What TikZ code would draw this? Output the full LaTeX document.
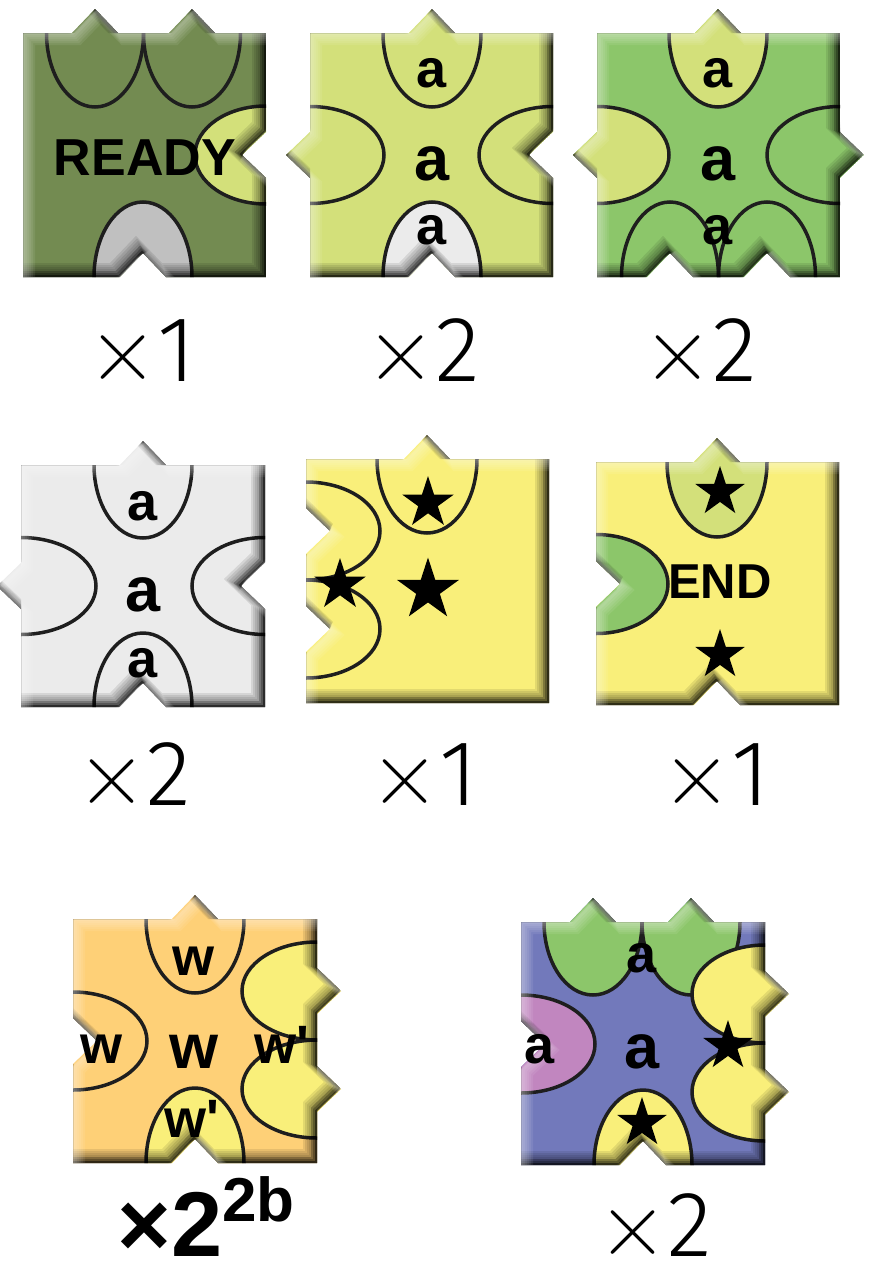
\documentclass[tikz,border=0pt]{standalone}
\usepackage{fontspec}
\newfontfamily\arial{Liberation Sans}
\newfontfamily\capfont{Fira Sans Light}
\usetikzlibrary{shapes.geometric}
\definecolor{cOlive}{HTML}{738B51}
\definecolor{cLime}{HTML}{D3E07A}
\definecolor{cGrey}{HTML}{C0C0C0}
\definecolor{cGreen}{HTML}{8CC66A}
\definecolor{cPale}{HTML}{EBEBEB}
\definecolor{cYel}{HTML}{F9EF7A}
\definecolor{cOra}{HTML}{FED077}
\definecolor{cBlue}{HTML}{7279BB}
\definecolor{cPink}{HTML}{C186BF}
\definecolor{cLine}{HTML}{1E1E1E}
% edge features: tab (out) / notch (in)
\newcommand\TabT[2]{-- ({#1-23},#2) -- (#1,{#2-24}) -- ({#1+23},#2)}
\newcommand\NchT[2]{-- ({#1-23},#2) -- (#1,{#2+24}) -- ({#1+23},#2)}
\newcommand\TabR[2]{-- (#1,{#2-23}) -- ({#1+24},#2) -- (#1,{#2+23})}
\newcommand\NchR[2]{-- (#1,{#2-23}) -- ({#1-24},#2) -- (#1,{#2+23})}
\newcommand\TabB[2]{-- ({#1+23},#2) -- (#1,{#2+24}) -- ({#1-23},#2)}
\newcommand\NchB[2]{-- ({#1+23},#2) -- (#1,{#2-24}) -- ({#1-23},#2)}
\newcommand\TabL[2]{-- (#1,{#2+23}) -- ({#1-24},#2) -- (#1,{#2-23})}
\newcommand\NchL[2]{-- (#1,{#2+23}) -- ({#1+24},#2) -- (#1,{#2-23})}
\newcommand\bevel[1]{%
  \foreach \w in {1,...,7}{\draw[black,opacity=0.09,line width={2*\w},shift={(-\w,-\w)}] #1;}%
  \foreach \w in {1,2,3}{\draw[black,opacity=0.18,line width={2*\w},shift={(-\w,-\w)}] #1;}%
  \draw[black,opacity=0.3,line width=2,shift={(-1,-1)}] #1;%
  \foreach \w in {1,...,6}{\draw[white,opacity=0.08,line width={2*\w},shift={(\w,\w)}] #1;}%
}
\newcommand\mul{{\rmfamily\fontsize{96}{96}\selectfont ×}}
\def\PathA{(23,33) \TabT{95}{33} \TabT{192}{33} -- (266,33) \NchR{266}{155} -- (266,277) \NchB{143}{277} -- (23,277) -- cycle}
\def\PathB{(310,33) \TabT{432}{33} -- (553,33) \NchR{553}{155} -- (553,277) \NchB{432}{277} -- (310,277) \TabL{310}{155} -- cycle}
\def\PathC{(597,33) \TabT{718}{33} -- (840,33) \TabR{840}{155} -- (840,277) \NchB{767}{277} \NchB{670}{277} -- (597,277) \TabL{597}{155} -- cycle}
\def\PathD{(21,465) \TabT{143}{465} -- (265,465) \NchR{265}{586} -- (265,707) \NchB{143}{707} -- (21,707) \TabL{21}{586} -- cycle}
\def\PathE{(306,459) \TabT{427}{459} -- (549,459) -- (549,703) -- (306,703) \NchL{306}{629} \NchL{306}{531} -- cycle}
\def\PathF{(596,462) \TabT{717}{462} -- (839,462) -- (839,705) \NchB{717}{705} -- (596,705) \NchL{596}{584} -- cycle}
\def\PathG{(73,919) \TabT{195}{919} -- (317,919) \TabR{317}{991} \TabR{317}{1089} -- (317,1163) \NchB{195}{1163} -- (73,1163) \NchL{73}{1041} -- cycle}
\def\PathH{(521,922) \TabT{593}{922} \TabT{691}{922} -- (765,922) \TabR{765}{994} \TabR{765}{1092} -- (765,1165) \NchB{643}{1165} -- (521,1165) \NchL{521}{1044} -- cycle}
\tikzset{
  ell/.style={draw=cLine,line width=3.5pt},
  lbl/.style={anchor=base,inner sep=0pt,font=\arial\bfseries\fontsize{54}{56}\selectfont},
  big/.style={anchor=base,inner sep=0pt,font=\arial\bfseries\fontsize{63}{65}\selectfont},
  word/.style={anchor=base,inner sep=0pt,font=\arial\bfseries\fontsize{#1}{#1}\selectfont},
  starS/.style={star,star points=5,star point ratio=2.618,fill=black,inner sep=0pt,minimum size=#1},
  capt/.style={anchor=base,inner sep=0pt,font=\capfont\fontsize{93}{95}\selectfont},
}
\begin{document}
\begin{tikzpicture}[x=1pt,y=-1pt]
\useasboundingbox[fill=white] (0,0) rectangle (883,1266);
% ---- tile A (READY)
\begin{scope}
\clip \PathA;
\fill[cOlive] \PathA;
\draw[ell] (95,33) ellipse [x radius=48.5,y radius=74];
\draw[ell] (192,33) ellipse [x radius=48.5,y radius=74];
\draw[ell,fill=cLime] (266,155) ellipse [x radius=71,y radius=49];
\draw[ell,fill=cGrey] (143,277) ellipse [x radius=49,y radius=75];
\bevel{\PathA}
\end{scope}
\node[word=52] (ready) at (145,175) {READY};
% ---- tile B
\begin{scope}
\clip \PathB;
\fill[cLime] \PathB;
\draw[ell] (432,33) ellipse [x radius=49,y radius=74];
\draw[ell] (310,155) ellipse [x radius=74,y radius=48.5];
\draw[ell] (553,155) ellipse [x radius=74,y radius=48.5];
\draw[ell,fill=cPale] (432,277) ellipse [x radius=49,y radius=75];
\bevel{\PathB}
\end{scope}
\node[lbl] (b1) at (432,87) {a};
\node[big] (b2) at (432,180) {a};
\node[lbl] (b3) at (432,244) {a};
% ---- tile C
\begin{scope}
\clip \PathC;
\fill[cGreen] \PathC;
\draw[ell,fill=cLime] (718,33) ellipse [x radius=49,y radius=74];
\draw[ell,fill=cLime] (597,155) ellipse [x radius=72,y radius=48.5];
\draw[ell] (840,155) ellipse [x radius=73,y radius=48.5];
\draw[ell] (670,277) ellipse [x radius=48.5,y radius=75];
\draw[ell] (767,277) ellipse [x radius=48.5,y radius=75];
\bevel{\PathC}
\end{scope}
\node[lbl] (c1) at (718,87) {a};
\node[big] (c2) at (718,180) {a};
\node[lbl] (c3) at (718,244) {a};
% ---- tile D
\begin{scope}
\clip \PathD;
\fill[cPale] \PathD;
\draw[ell] (143,465) ellipse [x radius=49,y radius=73];
\draw[ell] (21,586) ellipse [x radius=75,y radius=48.5];
\draw[ell] (265,586) ellipse [x radius=73,y radius=48.5];
\draw[ell] (143,707) ellipse [x radius=49,y radius=74];
\bevel{\PathD}
\end{scope}
\node[lbl] (d1) at (143,520) {a};
\node[big] (d2) at (143,611) {a};
\node[lbl] (d3) at (143,677) {a};
% ---- tile E
\begin{scope}
\clip \PathE;
\fill[cYel] \PathE;
\draw[ell] (427,459) ellipse [x radius=50,y radius=74];
\draw[ell] (306,531) ellipse [x radius=74,y radius=49];
\draw[ell] (306,629) ellipse [x radius=74,y radius=49];
\bevel{\PathE}
\end{scope}
\node[starS=54pt] (e1) at (428,503) {};
\node[starS=65pt] (e2) at (428,590) {};
\node[starS=54pt] (e3) at (340,585) {};
% ---- tile F
\begin{scope}
\clip \PathF;
\fill[cYel] \PathF;
\draw[ell,fill=cLime] (717,462) ellipse [x radius=50,y radius=75];
\draw[ell,fill=cGreen] (596,584) ellipse [x radius=72,y radius=49.5];
\bevel{\PathF}
\end{scope}
\node[word=49] (endw) at (720,598) {END};
\node[starS=52pt] (f1) at (720,492) {};
\node[starS=52pt] (f2) at (720,655) {};
% ---- tile G
\begin{scope}
\clip \PathG;
\fill[cOra] \PathG;
\draw[ell] (195,919) ellipse [x radius=49,y radius=74];
\draw[ell] (73,1041) ellipse [x radius=74,y radius=49];
\draw[ell,fill=cYel] (317,991) ellipse [x radius=75,y radius=49];
\draw[ell,fill=cYel] (317,1089) ellipse [x radius=75,y radius=49];
\draw[ell,fill=cYel] (195,1163) ellipse [x radius=49,y radius=75];
\bevel{\PathG}
\end{scope}
\node[lbl] (g1) at (193,975) {w};
\node[big] (g2) at (194,1068) {w};
\node[lbl] (g3) at (102,1063) {w};
\node[lbl] (g4) at (282,1063) {w\textquotesingle};
\node[lbl] (g5) at (192,1137) {w\textquotesingle};
% ---- tile H
\begin{scope}
\clip \PathH;
\fill[cBlue] \PathH;
\draw[ell,fill=cGreen] (593,922) ellipse [x radius=49,y radius=73];
\draw[ell,fill=cGreen] (691,922) ellipse [x radius=49,y radius=73];
\draw[ell,fill=cPink] (521,1044) ellipse [x radius=74,y radius=49];
\draw[ell,fill=cYel] (765,994) ellipse [x radius=73,y radius=49];
\draw[ell,fill=cYel] (765,1092) ellipse [x radius=73,y radius=49];
\draw[ell,fill=cYel] (643,1165) ellipse [x radius=49,y radius=75];
\bevel{\PathH}
\end{scope}
\node[lbl] (h1) at (642,972) {a};
\node[big] (h2) at (642,1068) {a};
\node[lbl] (h3) at (540,1063) {a};
\node[starS=52pt] (h4) at (728,1046) {};
\node[starS=52pt] (h5) at (642,1123) {};
% ---- captions
\node[capt] (k1) at (142,381) {\mul1};
\node[capt] (k2) at (423,381) {\mul2};
\node[capt] (k3) at (700,381) {\mul2};
\node[capt] (k4) at (134,805) {\mul2};
\node[capt] (k5) at (424,805) {\mul1};
\node[capt] (k6) at (716,805) {\mul1};
\node[anchor=base,inner sep=0pt,font=\arial\bfseries\fontsize{92}{94}\selectfont] (k7) at (206,1256) {×2\raisebox{35pt}{\fontsize{62}{62}\selectfont 2b}};
\node[capt] (k8) at (655,1256) {\mul2};
\end{tikzpicture}
\end{document}
